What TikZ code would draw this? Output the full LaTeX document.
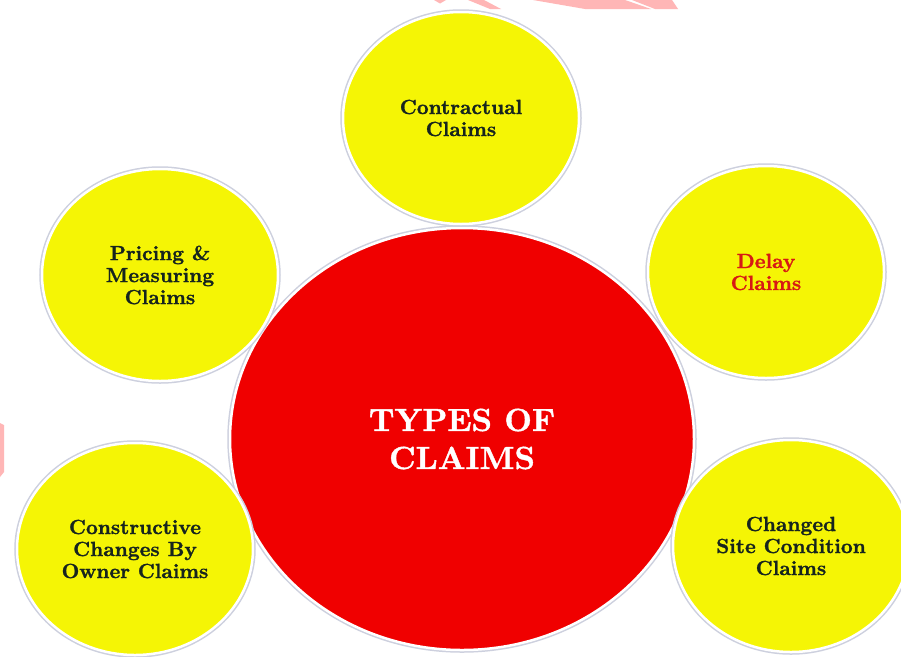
\documentclass[tikz,border=0pt]{standalone}
\usepackage{fontspec}
\newfontfamily\hvy[Extension=.otf,FakeBold=1.2]{lmroman10-bold}
\usetikzlibrary{shapes.geometric}
\definecolor{bubyellow}{RGB}{245,245,5}
\definecolor{bubred}{RGB}{240,0,0}
\definecolor{txtdark}{RGB}{22,36,30}
\definecolor{txtred}{RGB}{215,25,20}
\definecolor{wmpink}{RGB}{255,182,182}
\definecolor{glow}{RGB}{205,208,222}
\tikzset{
  bub/.style={ellipse, draw=white, line width=2.5pt, inner sep=0pt,
    preaction={draw=glow, line width=5.5pt},
    minimum width=236pt, minimum height=212pt, align=center,
    font=\fontsize{20.5}{22}\hvy, text=txtdark},
  ybub/.style={bub, fill=bubyellow},
  rbub/.style={bub, fill=bubred, minimum width=464pt, minimum height=422pt,
    text=white, font=\fontsize{32}{38}\hvy},
  wm/.style={fill=wmpink, draw=none}
}
\begin{document}
\begin{tikzpicture}[x=1pt, y=-1pt]
\useasboundingbox (0,0) rectangle (901,656);
\fill[white] (0,0) rectangle (901,656);
% watermark fragments
\fill[wm] (434,0) -- (446,0) -- (440,3.5) -- cycle;
\fill[wm] (468,0) -- (484,0) -- (501,9) -- (490,9) -- cycle;
\fill[wm] (533,0) -- (625,0) -- (651,9) -- (585,9) -- cycle;
\fill[wm] (632,0) -- (672,0) -- (678,9) -- (655,9) -- cycle;
\fill[wm] (0,423) -- (4,425) -- (4,472) -- (0,477) -- cycle;
% central
\node[rbub] (c) at (462,439) {TYPES OF\\CLAIMS};
% satellites
\node[ybub] (t)  at (461,118) {Contractual\\Claims};
\node[ybub] (pl) at (160,275) {Pricing \&\\Measuring\\Claims};
\node[ybub, text=txtred] (dr) at (766,272) {Delay\\Claims};
\node[ybub] (bl) at (135,549) {Constructive\\Changes By\\Owner Claims};
\node[ybub] (br) at (791,546) {Changed\\Site Condition\\Claims};
\end{tikzpicture}
\end{document}
